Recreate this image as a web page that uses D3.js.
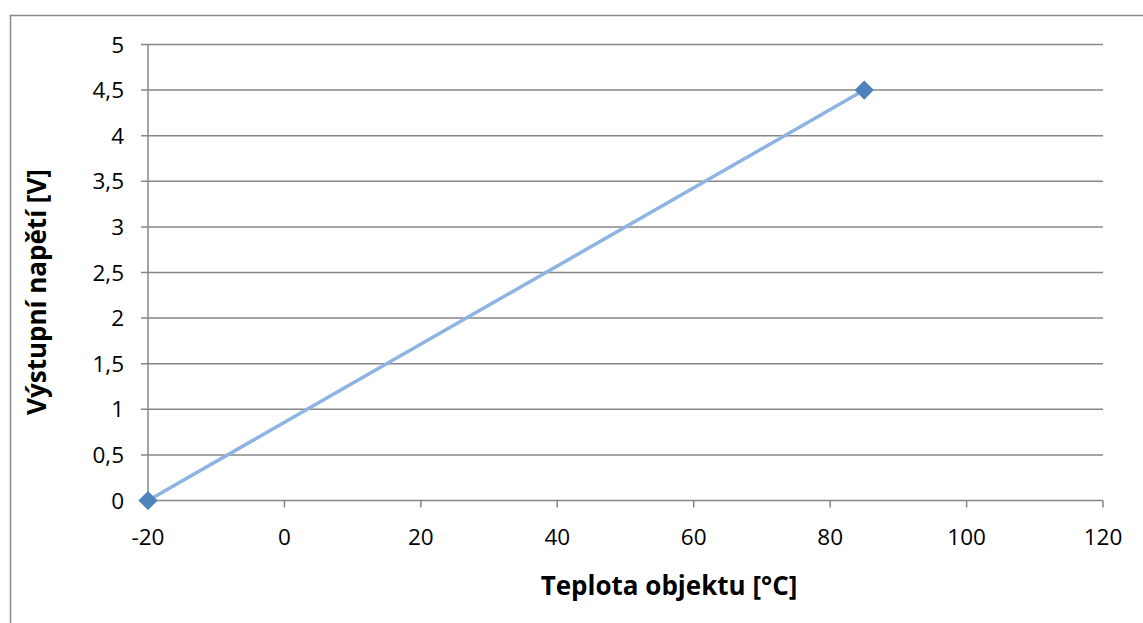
<!DOCTYPE html>
<html><head><meta charset="utf-8">
<script src="https://cdn.jsdelivr.net/npm/d3@7"></script>
<style>html,body{margin:0;padding:0;background:#fff;}svg{display:block;}</style>
</head><body>
<svg id="c" width="1143" height="623"></svg>
<script>
const xValues = [-20, 85];
const yValues = [0, 4.5];
const xTicks = [-20, 0, 20, 40, 60, 80, 100, 120];
const yTicks = [0, 0.5, 1, 1.5, 2, 2.5, 3, 3.5, 4, 4.5, 5];
const xTitle = "Teplota objektu [°C]";
const yTitle = "Výstupní napětí [V]";

const svg = d3.select("#c");
const font = "'Open Sans', Lato, sans-serif";
const gridColor = "#868686";

// outer chart border
svg.append("path").attr("d", "M10.5,623 L10.5,15.5 L1143,15.5")
  .attr("fill", "none").attr("stroke", "#8a8a8a").attr("stroke-width", 1.5);

const x = d3.scaleLinear().domain([-20, 120]).range([148, 1103]);
const y = d3.scaleLinear().domain([0, 5]).range([500.5, 44.5]);

// horizontal gridlines
svg.append("g").selectAll("line").data(yTicks).join("line")
  .attr("x1", 141).attr("x2", x(120))
  .attr("y1", d => y(d)).attr("y2", d => y(d))
  .attr("stroke", gridColor).attr("stroke-width", 1.5);

// y axis line
svg.append("line").attr("x1", x(-20)).attr("x2", x(-20))
  .attr("y1", y(5)).attr("y2", y(0))
  .attr("stroke", gridColor).attr("stroke-width", 1.5);

// x tick marks
svg.append("g").selectAll("line").data(xTicks).join("line")
  .attr("x1", d => x(d)).attr("x2", d => x(d))
  .attr("y1", y(0)).attr("y2", y(0) + 7)
  .attr("stroke", gridColor).attr("stroke-width", 1.5);

const fmt = d => String(d).replace(".", ",");

// y tick labels
svg.append("g").selectAll("text").data(yTicks).join("text")
  .attr("x", 124).attr("y", d => y(d)).attr("dy", "0.36em")
  .attr("text-anchor", "end").attr("font-family", font).attr("font-size", 22.5)
  .attr("fill", "#000").text(fmt);

// x tick labels
svg.append("g").selectAll("text").data(xTicks).join("text")
  .attr("x", d => x(d)).attr("y", 537).attr("dy", "0.36em")
  .attr("text-anchor", "middle").attr("font-family", font).attr("font-size", 22.5)
  .attr("fill", "#000").text(fmt);

// series line
const pts = xValues.map((v, i) => [v, yValues[i]]);
svg.append("path").datum(pts)
  .attr("d", d3.line().x(d => x(d[0])).y(d => y(d[1])))
  .attr("fill", "none").attr("stroke", "#8db4e2").attr("stroke-width", 3.5);

// markers
svg.append("g").selectAll("path").data(pts).join("path")
  .attr("d", d3.symbol().type(d3.symbolSquare).size(185))
  .attr("transform", d => `translate(${x(d[0])},${y(d[1])}) rotate(45)`)
  .attr("fill", "#4f81bd");

// axis titles
svg.append("text").attr("x", 669).attr("y", 586).attr("dy", "0.36em")
  .attr("text-anchor", "middle").attr("font-family", font).attr("font-size", 26)
  .attr("font-weight", "bold").attr("fill", "#000").text(xTitle);

svg.append("text").attr("transform", "translate(37,292) rotate(-90)").attr("dy", "0.36em")
  .attr("text-anchor", "middle").attr("font-family", font).attr("font-size", 26)
  .attr("font-weight", "bold").attr("fill", "#000").text(yTitle);
</script>
</body></html>
